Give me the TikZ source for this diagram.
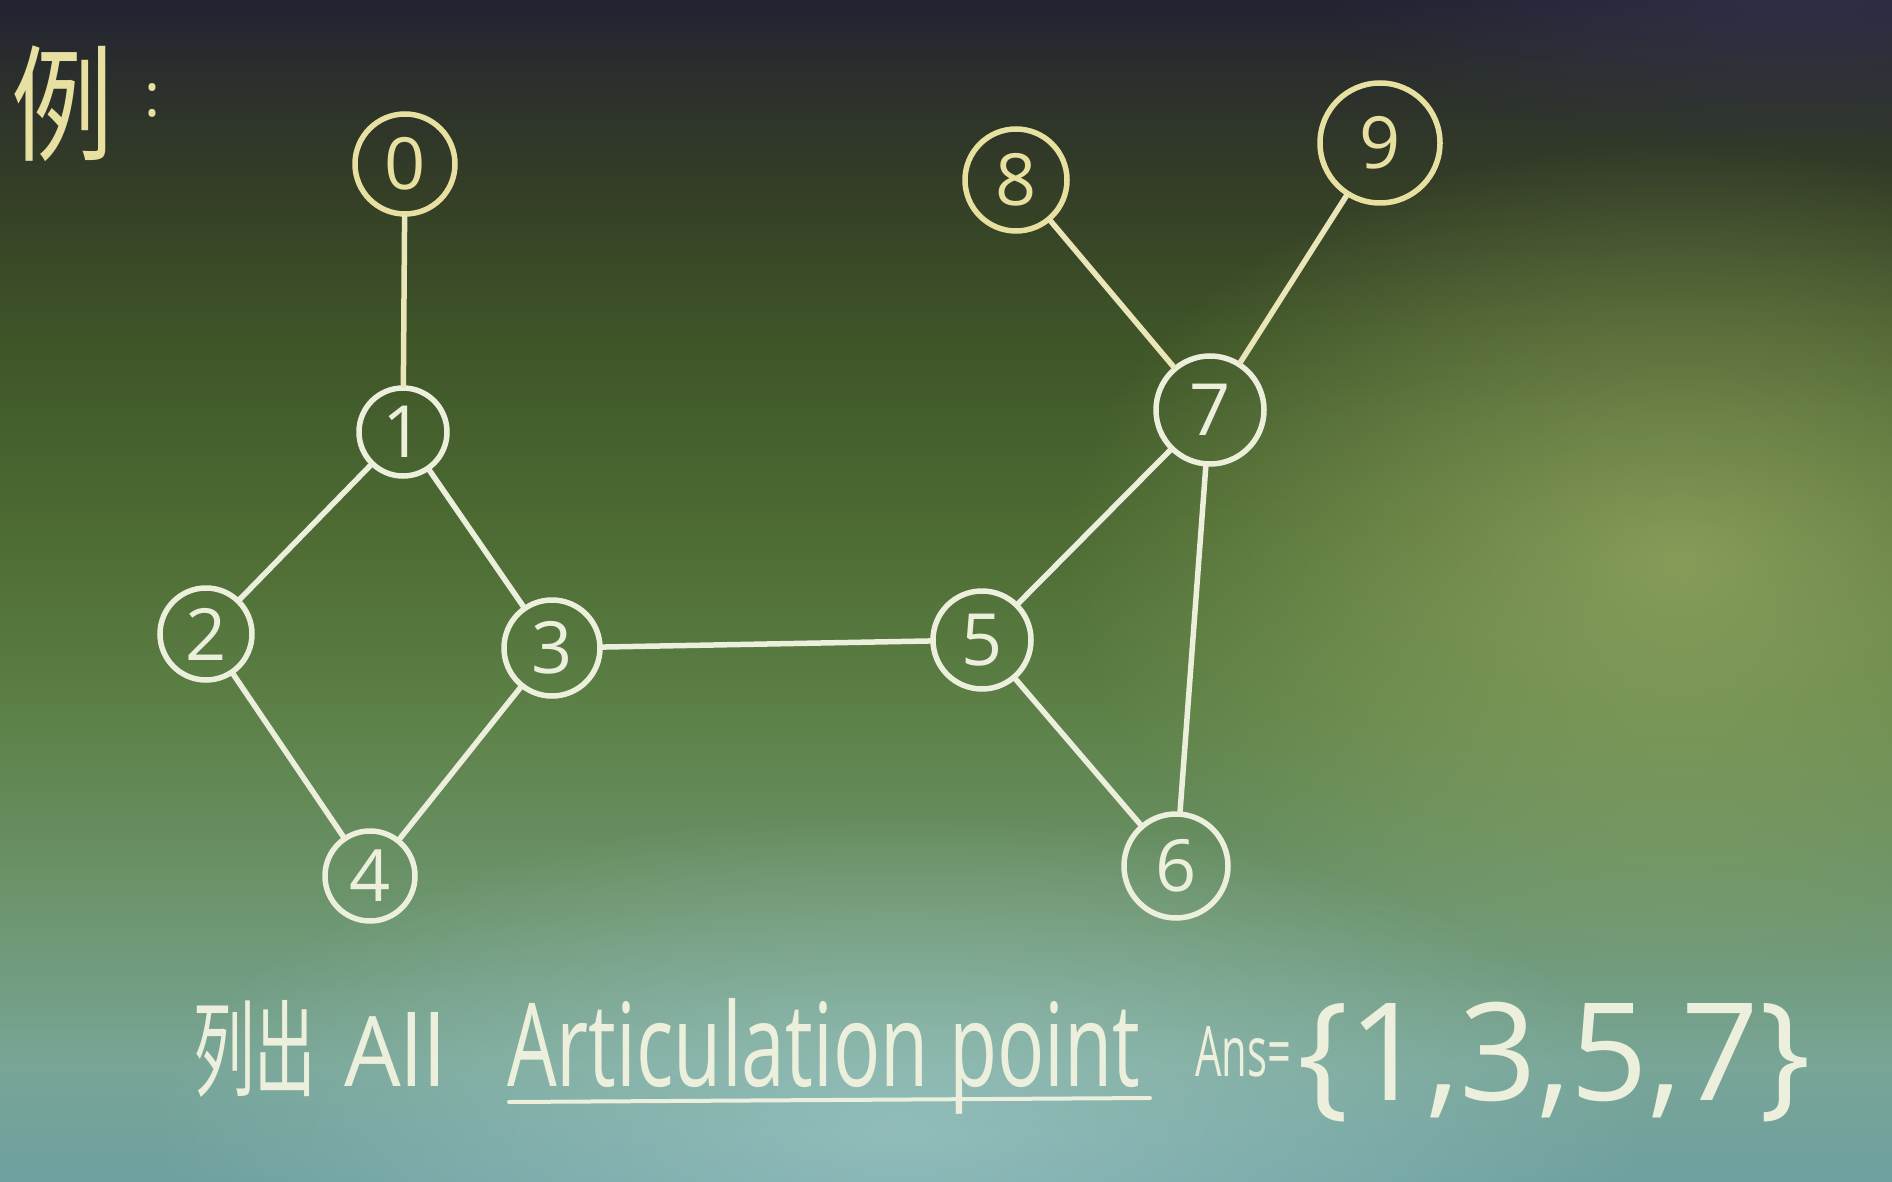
\documentclass[tikz,border=0pt]{standalone}
\usepackage{fontspec}
\usepackage{graphicx}
\setmainfont{Open Sans}
\newfontfamily\cjk{Noto Sans CJK SC}
\usetikzlibrary{fadings}
\definecolor{chalk}{HTML}{ECEFDC}
\definecolor{chalkY}{HTML}{E8E0A0}
\definecolor{glowA}{RGB}{170,186,112}
\definecolor{glowB}{RGB}{170,210,210}
\definecolor{topR}{RGB}{60,58,90}
\definecolor{bA}{RGB}{110,160,160}
\definecolor{bB}{RGB}{120,165,150}
\definecolor{bC}{RGB}{108,148,108}
\definecolor{bD}{RGB}{92,128,70}
\definecolor{bE}{RGB}{76,106,50}
\definecolor{bF}{RGB}{62,84,40}
\definecolor{bG}{RGB}{52,62,38}
\definecolor{bH}{RGB}{42,46,44}
\definecolor{bI}{RGB}{34,34,50}
\pgfdeclareverticalshading{board}{100bp}{color(0bp)=(bA); color(25bp)=(bA); color(30bp)=(bB); color(37bp)=(bC); color(45bp)=(bD); color(53bp)=(bE); color(61bp)=(bF); color(67bp)=(bG); color(72bp)=(bH); color(75bp)=(bI); color(100bp)=(bI)}
\tikzfading[name=softglow, inner color=transparent!0, outer color=transparent!100]
\tikzset{
  vtx/.style={circle, draw=chalk, line width=5.5pt, minimum size=#1, inner sep=0pt,
    text=chalk, font=\fontsize{72}{78}\selectfont},
  vtxY/.style={vtx=#1, draw=chalkY, text=chalkY},
  edge/.style={draw=chalk, line width=5.5pt, line cap=round},
  edgeY/.style={draw=chalkY!60!chalk, line width=5.5pt, line cap=round},
  chalktext/.style={text=chalk, inner sep=0pt}
}
\begin{document}
\begin{tikzpicture}[x=1pt, y=-1pt]
  \useasboundingbox (0,0) rectangle (1892,1182);
  % board
  \shade[shading=board] (0,0) rectangle (1892,1182);
  \begin{scope}
    \clip (0,0) rectangle (1892,1182);
    \fill[glowA, fill opacity=0.6, path fading=softglow]
      (1680,560) ellipse (620 and 420);
    \fill[glowB, fill opacity=0.55, path fading=softglow]
      (900,1130) ellipse (760 and 320);
    \fill[topR, fill opacity=0.5, path fading=softglow]
      (1800,0) ellipse (500 and 160);
  \end{scope}

  % title
  \node[text=chalkY, inner sep=0pt] (ex) at (62,104)
    {\scalebox{0.85}[1.05]{\cjk\fontsize{120}{130}\selectfont 例}};
  \node[text=chalkY, inner sep=0pt, font=\fontsize{60}{66}\selectfont] (colon) at (152,100) {:};

  % vertices
  \node[vtxY=100pt] (n0) at (405,164) {0};
  \node[vtx=88pt]  (n1) at (403,432) {1};
  \node[vtx=92pt]  (n2) at (206,634) {2};
  \node[vtx=96pt]  (n3) at (552,648) {3};
  \node[vtx=90pt]  (n4) at (370,876) {4};
  \node[vtx=98pt]  (n5) at (982,640) {5};
  \node[vtx=104pt] (n6) at (1176,866) {6};
  \node[vtx=108pt] (n7) at (1210,410) {7};
  \node[vtxY=102pt] (n8) at (1016,180) {8};
  \node[vtxY=120pt] (n9) at (1380,143) {9};

  % edges
  \draw[edgeY] (n0) -- (n1);
  \draw[edge] (n1) -- (n2);
  \draw[edge] (n1) -- (n3);
  \draw[edge] (n2) -- (n4);
  \draw[edge] (n3) -- (n4);
  \draw[edge] (n3) -- (n5);
  \draw[edge] (n5) -- (n7);
  \draw[edge] (n5) -- (n6);
  \draw[edge] (n7) -- (n6);
  \draw[edgeY] (n7) -- (n8);
  \draw[edgeY] (n7) -- (n9);

  % bottom text
  \node[chalktext, anchor=base west] (lc) at (193,1088)
    {\resizebox{123pt}{88pt}{\cjk 列出}};
  \node[chalktext, anchor=base west] (all) at (344,1086)
    {\resizebox{102pt}{74pt}{All}};
  \node[chalktext, anchor=base west] (art) at (507,1086)
    {\resizebox{633pt}{88pt}{Articulation point}};
  \coordinate (ul1) at (509,1102);
  \coordinate (ul2) at (1150,1098);
  \draw[edge, line width=4pt] (ul1) -- (ul2);
  \node[chalktext, anchor=base west] (ans) at (1195,1076)
    {\resizebox{96pt}{50pt}{Ans=}};
  \node[chalktext, anchor=base west] (set) at (1297,1100)
    {\resizebox{513pt}{!}{\{1,3,5,7\}}};
\end{tikzpicture}
\end{document}
